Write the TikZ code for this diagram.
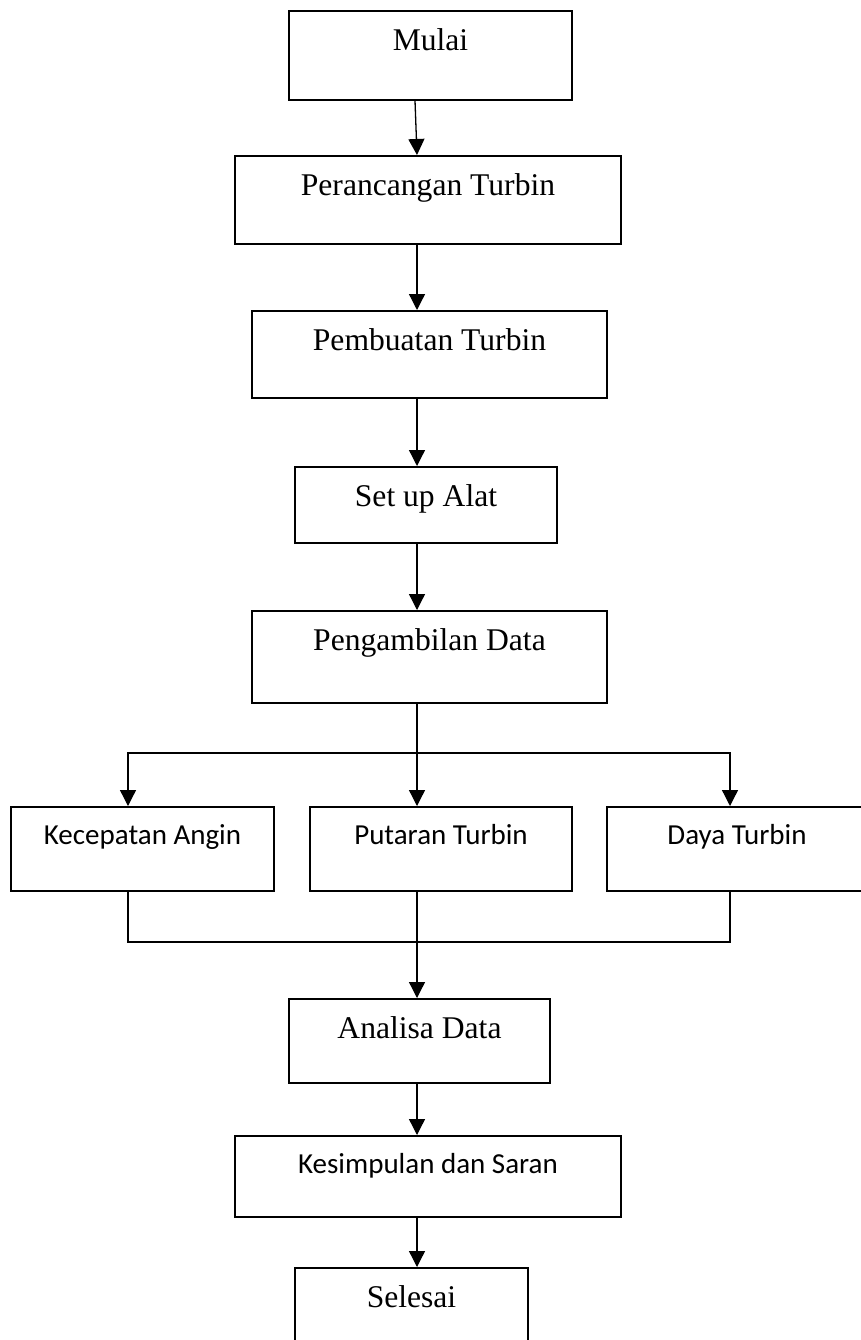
\documentclass[tikz,border=0pt]{standalone}
\usepackage{fontspec}
\setmainfont{Liberation Serif}
\newfontfamily\calibrifont{Carlito}
\usetikzlibrary{arrows.meta}

\begin{document}
\begin{tikzpicture}[x=1pt, y=-1pt,
  kotak/.style={draw, line width=1.6pt, inner sep=0pt, anchor=north,
    text height=40pt, font=\fontsize{31.6}{36}\selectfont},
  kotakc/.style={kotak, text height=38pt, font=\calibrifont\fontsize{29}{34}\selectfont},
  panah/.style={line width=1.3pt, -{Triangle[width=16pt,length=16pt]}},
  garis/.style={line width=1.3pt}]

\path[use as bounding box, fill=white] (0,0) rectangle (860,1340);

% alur utama
\node[kotak, minimum width=283pt, text depth=49pt] (mulai) at (430.5,10) {Mulai};
\node[kotak, minimum width=386pt, text depth=48pt] (rancang) at (428,155) {Perancangan Turbin};
\node[kotak, minimum width=355pt, text depth=47pt] (buat) at (429.5,310) {Pembuatan Turbin};
\node[kotak, minimum width=262pt, text depth=36pt] (setup) at (426,466) {Set up Alat};
\node[kotak, minimum width=355pt, text depth=52pt] (ambil) at (429.5,610) {Pengambilan Data};

% data yang diambil
\node[kotakc, minimum width=263pt, text depth=46pt] (kec) at (142.5,806) {Kecepatan Angin};
\node[kotakc, minimum width=262pt, text depth=46pt] (putar) at (441,806) {Putaran Turbin};
\node[kotakc, minimum width=260pt, text depth=46pt] (daya) at (737,806) {Daya Turbin};

\node[kotak, minimum width=261pt, text depth=44pt] (analisa) at (419.5,998) {Analisa Data};
\node[kotakc, minimum width=386pt, text depth=43pt] (simpul) at (428,1135) {Kesimpulan dan Saran};
\node[kotak, minimum width=233pt, text depth=50pt] (selesai) at (411.5,1267) {Selesai};

\coordinate (tengah) at (417,0);
\coordinate (atas) at (415,0);
\coordinate (cabang) at (417,753);
\coordinate (gabung) at (417,942);
\coordinate (kiri) at (128,0);
\coordinate (kanan) at (730,0);

\draw[panah] (mulai.south -| atas) -- (rancang.north -| tengah);
\draw[panah] (rancang.south -| tengah) -- (buat.north -| tengah);
\draw[panah] (buat.south -| tengah) -- (setup.north -| tengah);
\draw[panah] (setup.south -| tengah) -- (ambil.north -| tengah);

\draw[garis] (ambil.south -| tengah) -- (cabang);
\draw[panah] (cabang) -- (putar.north -| cabang);
\draw[panah] (cabang) -| (kec.north -| kiri);
\draw[panah] (cabang) -| (daya.north -| kanan);

\draw[garis] (kec.south -| kiri) |- (gabung) -| (daya.south -| kanan);
\draw[garis] (putar.south -| gabung) -- (gabung);
\draw[panah] (gabung) -- (analisa.north -| gabung);

\draw[panah] (analisa.south -| tengah) -- (simpul.north -| tengah);
\draw[panah] (simpul.south -| tengah) -- (selesai.north -| tengah);

\end{tikzpicture}
\end{document}
